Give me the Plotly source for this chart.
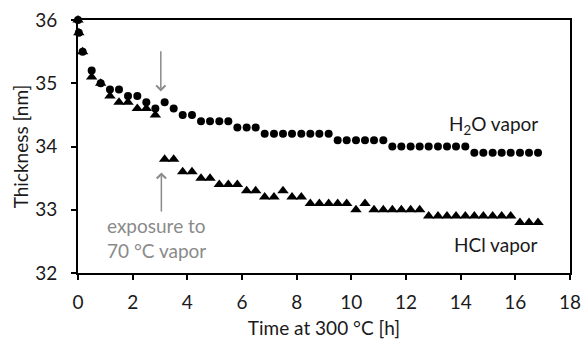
import plotly.graph_objects as go

# Film thickness vs. annealing time at 300 °C
time_h2o = [0, 0.03, 0.17, 0.5, 0.83, 1.17, 1.5, 1.83, 2.17, 2.5, 2.83,
            3.17, 3.5, 3.83, 4.17, 4.5, 4.83, 5.17, 5.5, 5.83, 6.17, 6.5,
            6.83, 7.17, 7.5, 7.83, 8.17, 8.5, 8.83, 9.17, 9.5, 9.83, 10.17,
            10.5, 10.83, 11.17, 11.5, 11.83, 12.17, 12.5, 12.83, 13.17, 13.5,
            13.83, 14.17, 14.5, 14.83, 15.17, 15.5, 15.83, 16.17, 16.5, 16.83]
thick_h2o = [36.0, 35.8, 35.5, 35.2, 35.0, 34.9, 34.9, 34.8, 34.8, 34.7, 34.6,
             34.7, 34.6, 34.5, 34.5, 34.4, 34.4, 34.4, 34.4, 34.3, 34.3, 34.3,
             34.2, 34.2, 34.2, 34.2, 34.2, 34.2, 34.2, 34.2, 34.1, 34.1, 34.1,
             34.1, 34.1, 34.1, 34.0, 34.0, 34.0, 34.0, 34.0, 34.0, 34.0,
             34.0, 34.0, 33.9, 33.9, 33.9, 33.9, 33.9, 33.9, 33.9, 33.9]

time_hcl = list(time_h2o)
thick_hcl = [36.0, 35.8, 35.5, 35.1, 35.0, 34.8, 34.7, 34.7, 34.6, 34.6, 34.5,
             33.8, 33.8, 33.6, 33.6, 33.5, 33.5, 33.4, 33.4, 33.4, 33.3, 33.3,
             33.2, 33.2, 33.3, 33.2, 33.2, 33.1, 33.1, 33.1, 33.1, 33.1, 33.0,
             33.1, 33.0, 33.0, 33.0, 33.0, 33.0, 33.0, 32.9, 32.9, 32.9,
             32.9, 32.9, 32.9, 32.9, 32.9, 32.9, 32.9, 32.8, 32.8, 32.8]

x_ticks = [0, 2, 4, 6, 8, 10, 12, 14, 16, 18]
y_ticks = [32, 33, 34, 35, 36]

FONT = "Lato"
FS = 19
TXT = "#1a1a1a"
GRAY = "#8a8a8a"

fig = go.Figure()
fig.add_trace(go.Scatter(x=time_hcl, y=thick_hcl, mode="markers", name="HCl vapor",
                         marker=dict(symbol="triangle-up", size=10, color="black"),
                         cliponaxis=False))
fig.add_trace(go.Scatter(x=time_h2o, y=thick_h2o, mode="markers", name="H2O vapor",
                         marker=dict(symbol="circle", size=8, color="black"),
                         cliponaxis=False))

# series labels
fig.add_annotation(x=16.9, y=34.34, text="H<sub>2</sub>O vapor", showarrow=False,
                   xanchor="right", yanchor="middle", font=dict(family=FONT, size=FS, color=TXT))
fig.add_annotation(x=16.9, y=32.45, text="HCl vapor", showarrow=False,
                   xanchor="right", yanchor="middle", font=dict(family=FONT, size=FS, color=TXT))

# exposure markers
fig.add_annotation(x=3.03, y=34.87, ax=3.03, ay=35.53, axref="x", ayref="y",
                   text="", showarrow=True, arrowhead=4, arrowsize=1.2,
                   arrowwidth=1.5, arrowcolor=GRAY)
fig.add_annotation(x=3.05, y=33.59, ax=3.05, ay=32.95, axref="x", ayref="y",
                   text="", showarrow=True, arrowhead=4, arrowsize=1.2,
                   arrowwidth=1.5, arrowcolor=GRAY)
fig.add_annotation(x=1.0, y=32.96, text="exposure to<br>70 °C vapor", showarrow=False,
                   xanchor="left", yanchor="top", align="left",
                   font=dict(family=FONT, size=FS, color=GRAY))

axis_common = dict(showline=True, linecolor="black", linewidth=1.8, mirror=True,
                   ticks="outside", ticklen=5, tickwidth=1.8, tickcolor="black",
                   showgrid=False, zeroline=False, automargin=False,
                   ticklabeloverflow="allow",
                   tickfont=dict(family=FONT, size=FS, color=TXT))

fig.update_xaxes(range=[0, 18], tickvals=x_ticks, ticktext=[str(v) for v in x_ticks],
                 ticklabelstandoff=6,
                 title=dict(text="Time at 300 °C [h]", standoff=17,
                            font=dict(family=FONT, size=FS, color=TXT)),
                 **axis_common)
fig.update_yaxes(range=[32, 36], tickvals=y_ticks, ticktext=[str(v) for v in y_ticks],
                 ticklabelstandoff=10,
                 title=dict(text="Thickness [nm]", standoff=2,
                            font=dict(family=FONT, size=FS, color=TXT)),
                 **axis_common)

fig.update_layout(width=581, height=339, showlegend=False,
                  plot_bgcolor="white", paper_bgcolor="white",
                  margin=dict(l=78, r=11, t=20, b=66))

fig.write_html("out.html")
